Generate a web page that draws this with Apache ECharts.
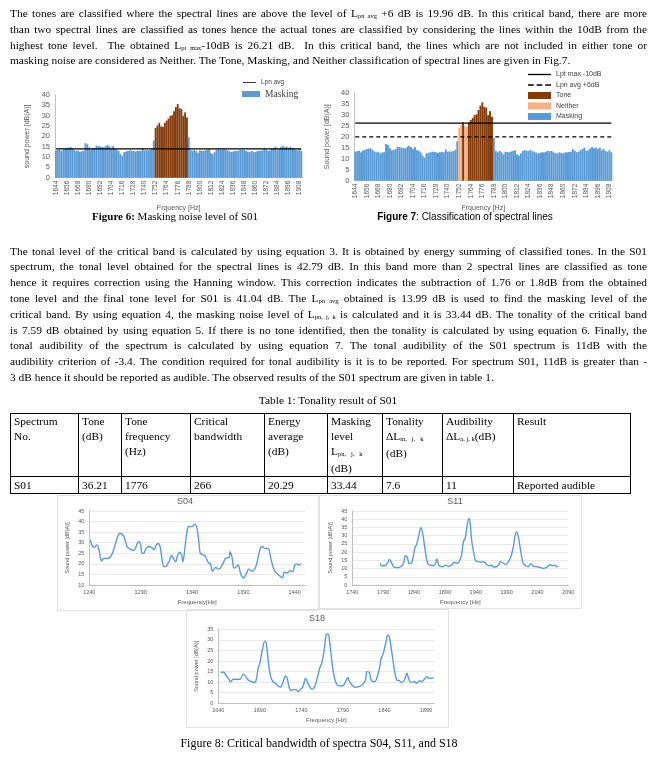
<!DOCTYPE html>
<html><head><meta charset="utf-8">
<script src="https://cdn.jsdelivr.net/npm/echarts@6/dist/echarts.min.js"></script>
<style>
html,body{margin:0;padding:0;background:#fff;}
#page{position:relative;width:657px;height:759px;overflow:hidden;}
#chart{position:absolute;left:0;top:0;width:657px;height:759px;}
.ln{position:absolute;left:10px;width:637px;height:16px;line-height:16px;font-family:"Liberation Serif","Times New Roman",serif;font-size:11.4px;color:#000;text-align:justify;text-align-last:justify;white-space:normal;}
.ln.last{text-align-last:left;}
.sb{font-size:6.5px;vertical-align:-1px;}
.cap{position:absolute;font-family:"Liberation Serif","Times New Roman",serif;color:#000;white-space:nowrap;transform:translateX(-50%);}
table{position:absolute;left:10px;top:413px;border-collapse:collapse;table-layout:fixed;font-family:"Liberation Serif","Times New Roman",serif;font-size:11.4px;color:#000;}
td{border:1px solid #000;padding:0 3px;vertical-align:top;line-height:15px;overflow:hidden;white-space:nowrap;}
</style></head>
<body><div id="page"><div id="chart"></div></div>
<script>
// ---------- data ----------
const barFreqs = [1644,1646,1648,1650,1652,1654,1656,1658,1660,1662,1664,1666,1668,1670,1672,1674,1676,1678,1680,1682,1684,1686,1688,1690,1692,1694,1696,1698,1700,1702,1704,1706,1708,1710,1712,1714,1716,1718,1720,1722,1724,1726,1728,1730,1732,1734,1736,1738,1740,1742,1744,1746,1748,1750,1752,1754,1756,1758,1760,1762,1764,1766,1768,1770,1772,1774,1776,1778,1780,1782,1784,1786,1788,1790,1792,1794,1796,1798,1800,1802,1804,1806,1808,1810,1812,1814,1816,1818,1820,1822,1824,1826,1828,1830,1832,1834,1836,1838,1840,1842,1844,1846,1848,1850,1852,1854,1856,1858,1860,1862,1864,1866,1868,1870,1872,1874,1876,1878,1880,1882,1884,1886,1888,1890,1892,1894,1896,1898,1900,1902,1904,1906,1908,1910];
const barPower = [13.2,13.4,13.6,12.9,13.7,14.0,14.4,14.6,14.7,14.0,13.3,12.9,13.2,12.4,12.8,13.0,16.7,16.2,14.7,13.8,14.1,14.4,15.5,15.3,15.0,14.8,14.7,15.3,15.9,15.3,14.4,15.3,13.9,13.6,12.9,11.4,10.5,12.4,12.7,12.9,13.2,13.1,12.9,12.7,12.9,13.0,12.9,14.2,13.2,13.3,13.2,13.5,14.0,18.0,24.1,25.3,26.5,24.8,24.5,26.5,27.6,28.6,29.8,30.2,32.1,34.1,35.6,33.6,33.2,29.8,31.6,29.1,19.5,13.5,12.9,13.5,12.9,12.0,13.2,13.0,12.9,13.3,13.5,13.9,12.0,11.4,12.4,13.5,13.9,13.6,13.5,13.9,13.4,13.2,12.8,12.4,12.7,12.9,12.9,13.2,13.5,13.4,13.5,12.9,12.6,12.4,12.9,12.6,12.4,12.8,12.9,13.1,13.2,14.4,13.5,13.0,13.2,13.9,14.4,15.0,13.5,13.9,14.7,15.3,14.7,15.0,14.4,15.0,13.9,14.4,13.5,13.2,13.9,12.9];
const fig6ToneFreqs = [1752,1754,1756,1758,1760,1762,1764,1766,1768,1770,1772,1774,1776,1778,1780,1782,1784,1786];
const fig7ToneFreqs = [1756,1762,1764,1766,1768,1770,1772,1774,1776,1778,1780,1782,1784,1786];
const fig7NeitherFreqs = [1752,1754,1758,1760];
const LPN_AVG = 13.99;
const LPN_AVG_PLUS6 = 19.96;
const LPT_MAX_MINUS10 = 26.21;

const s04Freq = [1241,1243,1245,1247,1249,1251,1252,1254,1258,1261,1264,1267,1270,1273,1275,1277,1280,1283,1285,1288,1290,1291,1293,1295,1298,1301,1303,1305,1307,1309,1311,1313,1315,1318,1320,1322,1324,1326,1328,1330,1331,1333,1335,1337,1339,1341,1343,1345,1347,1348,1350,1353,1356,1358,1360,1363,1366,1370,1373,1376,1377,1379,1381,1383,1385,1387,1390,1393,1395,1398,1401,1403,1406,1408,1411,1414,1417,1420,1423,1426,1428,1430,1433,1436,1438,1440,1442,1444,1446];
const s04Power = [31.5,28.5,27.8,29,27.5,22.5,21.3,22.5,22.5,23.5,27,32,34.5,33.5,31,28,27,26.3,27.5,30.6,29,25.5,25,27,28.2,27.5,26.8,28.7,29.6,28,21.5,18.7,19,21.5,24,22.5,21,24,25.5,24,21,27,35,37.8,37.5,38,38.8,36.5,29,25,24.5,23.5,20.5,20,16.5,18.3,17.5,20,22.8,23,25.8,23,18,18.5,19.5,16,13.3,15.5,17.5,16.5,17.5,20,26.5,28.2,27.3,27.2,22,17,15.3,14,13.5,16,15.8,16.8,16.2,19.3,20,19.3,20.3];
const s11Freq = [1785,1788,1793,1797,1800,1804,1807,1812,1817,1820,1823,1826,1829,1832,1835,1838,1842,1844,1848,1851,1854,1858,1862,1866,1870,1874,1877,1880,1883,1887,1891,1896,1901,1905,1909,1913,1917,1920,1923,1925,1929,1931,1933,1936,1940,1944,1948,1952,1955,1959,1962,1966,1969,1973,1977,1980,1985,1989,1993,1997,2001,2004,2006,2009,2013,2017,2021,2025,2029,2033,2039,2044,2050,2054,2058,2060,2064,2068,2071,2074];
const s11Power = [13.2,11.7,11.7,13.2,15.6,13.2,11.1,10.5,10.9,11.5,13.2,17.8,16.8,13.2,13,16.2,23.3,24.3,30.4,34.8,31.4,21.3,13.2,12.1,11.7,12.5,15.8,12.1,11.3,11.1,12.1,11.3,12.1,13.8,13.2,14.2,18.2,26.3,28.4,33.4,40.4,37.5,28.4,21.3,14.6,14.2,13.8,14.2,13.6,12.1,11.7,12.1,10.9,11.1,12.1,14.2,13.2,12.5,14.2,17.2,23.3,30.4,32.2,29.4,20.3,13.2,11.7,11.1,13,11.5,11.1,10.7,10.1,10.5,11.7,12.5,11.7,12.1,11.1,11.7];
const s18Freq = [1643,1646,1649,1652,1655,1658,1662,1666,1670,1673,1676,1680,1684,1686,1688,1690,1693,1696,1698,1700,1703,1706,1709,1712,1715,1718,1721,1723,1725,1728,1731,1734,1736,1739,1742,1745,1747,1750,1753,1756,1759,1762,1765,1768,1770,1772,1774,1777,1780,1783,1787,1791,1794,1796,1798,1801,1805,1809,1813,1817,1819,1822,1824,1828,1830,1834,1836,1838,1842,1844,1846,1849,1852,1855,1858,1861,1864,1867,1869,1872,1876,1879,1882,1885,1888,1891,1894,1899];
const s18Power = [14.5,14.8,13.4,11.8,10.2,11.4,11.4,11.4,13.7,12.6,11,10.2,9.9,11.8,16.5,18.9,25.2,29.4,27.6,20.5,12.6,10.2,9.5,8.2,7.6,10.2,12.9,11.8,7.9,6,6.6,6.3,5.5,6.6,7.9,11.8,10.2,7.9,6.6,7.9,11.8,16.5,19.7,26.8,32.6,32.8,29.2,18.9,11.8,8.7,8.2,8.7,11,12.1,10.2,8.7,7.6,7.9,8.7,10.7,15,14.5,11,10.2,11,16.5,21.3,22.9,29.2,32.3,31.2,23.7,15.8,11,10.7,9.8,11,14.2,11.8,9.8,10.2,9.5,10.7,10.2,11.4,12.6,11.8,12.1];

const tableHeader = ['Spectrum<br>No.','Tone<br>(dB)','Tone<br>frequency<br>(Hz)','Critical<br>bandwidth','Energy<br>average<br>(dB)','Masking<br>level<br>L<span class="sb">pn,&nbsp;&nbsp; j,&nbsp;&nbsp; k</span><br>(dB)','Tonality<br>&Delta;L<span class="sb">tn,&nbsp;&nbsp; j,&nbsp;&nbsp; k</span><br>(dB)','Audibility<br>&Delta;L<span class="sb">a, j, k</span>(dB)','Result'];
const tableRow = ['S01','36.21','1776','266','20.29','33.44','7.6','11','Reported audible'];
const colWidths = [68,43,69,74,63,55,60,71,117];

// ---------- text ----------
const para1 = [
 'The tones are classified where the spectral lines are above the level of L<span class="sb">pn avg</span> +6 dB is 19.96 dB. In this critical band, there are more',
 'than two spectral lines are classified as tones hence the actual tones are classified by considering the lines within the 10dB from the',
 'highest tone level.&nbsp; The obtained L<span class="sb">pt max</span>-10dB is 26.21 dB.&nbsp; In this critical band, the lines which are not included in either tone or',
 'masking noise are considered as Neither. The Tone, Masking, and Neither classification of spectral lines are given in Fig.7.'
];
const para2 = [
 'The tonal level of the critical band is calculated by using equation 3. It is obtained by energy summing of classified tones. In the S01',
 'spectrum, the tonal level obtained for the spectral lines is 42.79 dB. In this band more than 2 spectral lines are classified as tone',
 'hence it requires correction using the Hanning window. This correction indicates the subtraction of 1.76 or 1.8dB from the obtained',
 'tone level and the final tone level for S01 is 41.04 dB. The L<span class="sb">pn avg</span> obtained is 13.99 dB is used to find the masking level of the',
 'critical band. By using equation 4, the masking noise level of L<span class="sb">pn, j, k</span> is calculated and it is 33.44 dB. The tonality of the critical band',
 'is 7.59 dB obtained by using equation 5. If there is no tone identified, then the tonality is calculated by using equation 6. Finally, the',
 'tonal audibility of the spectrum is calculated by using equation 7. The tonal audibility of the S01 spectrum is 11dB with the',
 'audibility criterion of -3.4. The condition required for tonal audibility is it is to be reported. For spectrum S01, 11dB is greater than -',
 '3 dB hence it should be reported as audible. The observed results of the S01 spectrum are given in table 1.'
];
const page = document.getElementById('page');
function addLines(lines, startY, step){
  lines.forEach((t,i)=>{
    const d=document.createElement('div');
    d.className='ln'+(i===lines.length-1?' last':'');
    d.style.top=(startY+i*step-8)+'px';
    d.innerHTML=t; page.appendChild(d);
  });
}
addLines(para1, 13, 15.8);
addLines(para2, 250.5, 15.8);
function addCap(html, cx, cy, size){
  const d=document.createElement('div'); d.className='cap';
  d.style.left=cx+'px'; d.style.top=(cy-size*0.6)+'px'; d.style.fontSize=size+'px';
  d.innerHTML=html; page.appendChild(d);
}
addCap('<b>Figure 6:</b> Masking noise level of S01', 175, 217, 11);
addCap('<b style="font-family:\'Liberation Sans\',sans-serif">Figure 7</b><span style="font-family:\'Liberation Sans\',sans-serif">: Classification of spectral lines</span>', 465, 217, 10);
addCap('Table 1: Tonality result of S01', 328, 401, 11.4);
addCap('Figure 8: Critical bandwidth of spectra S04, S11, and S18', 319, 743, 12);
// table
const tb=document.createElement('table');
const cg=document.createElement('colgroup');
colWidths.forEach(w=>{const c=document.createElement('col');c.style.width=w+'px';cg.appendChild(c);});
tb.appendChild(cg);
const tr1=document.createElement('tr'); tr1.style.height='60px';
tableHeader.forEach(h=>{const td=document.createElement('td');td.innerHTML=h;tr1.appendChild(td);});
const tr2=document.createElement('tr'); tr2.style.height='17px';
tableRow.forEach(h=>{const td=document.createElement('td');td.innerHTML=h;td.style.lineHeight='16px';tr2.appendChild(td);});
tb.appendChild(tr1); tb.appendChild(tr2);
tb.style.width=colWidths.reduce((a,b)=>a+b,0)+'px';
page.appendChild(tb);

// ---------- chart ----------
const BLUE='#5B9BD5', BROWN='#843C0C', PEACH='#F4B183';
const AX='#595959', AXL='#bfbfbf', GRID='#e3e3e3';
const SANS='"Liberation Sans", Arial, sans-serif';
const pick = set => barPower.map((v,i)=> set.includes(barFreqs[i]) ? v : '-');
const notIn = set => barPower.map((v,i)=> set.includes(barFreqs[i]) ? '-' : v);
const fig7Class = fig7ToneFreqs.concat(fig7NeitherFreqs);
const zip = (a,b)=>a.map((x,i)=>[x,b[i]]);
const plain = v => String(v);
const SOLID_ICON = 'path://M0,0H24V1.4H0Z';
const DASH_ICON = 'path://M0,0H6V1.4H0Z M9,0H15V1.4H9Z M18,0H24V1.4H18Z';

function catAxis(g, gap){
  return {type:'category', gridIndex:g, data:barFreqs, boundaryGap:true,
    axisLine:{lineStyle:{color:AXL}}, axisTick:{show:false},
    axisLabel:{interval:5, rotate:90, fontSize:6.5, color:AX, margin:3, fontFamily:SANS},
    name:'Frquency [Hz]', nameLocation:'middle', nameGap:gap, nameTextStyle:{fontSize:7, color:AX, fontFamily:SANS}};
}
function barY(g, name){
  return {type:'value', gridIndex:g, min:0, max:40, interval:5,
    axisLine:{show:true, lineStyle:{color:AXL}}, axisTick:{show:false}, splitLine:{show:false},
    axisLabel:{fontSize:7.5, color:AX, margin:5, fontFamily:SANS, formatter:plain},
    name:name, nameLocation:'middle', nameGap:24, nameRotate:90, nameTextStyle:{fontSize:7, color:AX, fontFamily:SANS}};
}
function valX(g, min, max, name, showMax){
  return {type:'value', gridIndex:g, min:min, max:max, interval:50,
    axisLine:{show:true, lineStyle:{color:AXL}}, axisTick:{show:false}, splitLine:{show:false},
    axisLabel:{fontSize:5.5, color:AX, margin:4, showMaxLabel:showMax, fontFamily:SANS, formatter:plain},
    name:name, nameLocation:'middle', nameGap:14, nameTextStyle:{fontSize:6, color:AX, fontFamily:SANS}};
}
function valY(g, min, max){
  return {type:'value', gridIndex:g, min:min, max:max, interval:5,
    axisLine:{show:true, lineStyle:{color:AXL}}, axisTick:{show:false},
    splitLine:{show:true, lineStyle:{color:GRID, width:0.8}},
    axisLabel:{fontSize:5.5, color:AX, margin:5, fontFamily:SANS, formatter:plain},
    name:'Sound power [dB(A)]', nameLocation:'middle', nameGap:19, nameRotate:90, nameTextStyle:{fontSize:5.5, color:AX, fontFamily:SANS}};
}
const barBase = {type:'bar', barCategoryGap:'0%', barGap:'-100%', animation:false};
const lineBase = {type:'line', symbol:'none', animation:false};

const option = {
  animation:false,
  grid:[
    {left:55, top:95, width:247.3, height:82.7},
    {left:354.3, top:92.7, width:258, height:88},
    {left:89.3, top:511, width:215.7, height:74},
    {left:352.3, top:511, width:216, height:74},
    {left:218.3, top:629.3, width:216, height:74}
  ],
  xAxis:[ catAxis(0,27), catAxis(1,24),
    valX(2,1240,1450,'Frequency[Hz]',false), valX(3,1740,2090,'Frequency [Hz]',true), valX(4,1640,1900,'Frequency [Hz]',false)],
  yAxis:[ barY(0,'sound power [dB(A)]'), barY(1,'Sound power [dB(A)]'),
    valY(2,10,45), valY(3,0,45), valY(4,0,35)],
  legend:[
    {data:[{name:'Lpn avg', icon:SOLID_ICON}], left:243, top:79, itemWidth:13, itemHeight:6, padding:0,
      textStyle:{fontSize:6.5, color:'#404040', fontFamily:SANS}},
    {data:['Masking'], left:242, top:89, itemWidth:18, itemHeight:6, padding:0, icon:'rect',
      textStyle:{fontSize:9.5, color:'#404040', fontFamily:'"Liberation Serif", serif'}},
    {data:[{name:'Lpt max -10dB', icon:SOLID_ICON},{name:'Lpn avg +6dB', icon:DASH_ICON},{name:'Tone', icon:'rect'},{name:'Neither', icon:'rect'},{name:'Masking', icon:'rect'}],
      orient:'vertical', left:528, top:71,
      itemWidth:23, itemHeight:7, itemGap:3.5, padding:0, textStyle:{fontSize:7, color:'#404040', fontFamily:SANS}}
  ],
  graphic:[
    {type:'rect', shape:{x:57.5,y:495.5,width:261,height:115}, style:{fill:'none', stroke:'#e2e2e2', lineWidth:1}, silent:true},
    {type:'rect', shape:{x:319.5,y:495.5,width:262,height:113}, style:{fill:'none', stroke:'#e2e2e2', lineWidth:1}, silent:true},
    {type:'rect', shape:{x:186.5,y:609.5,width:262,height:118}, style:{fill:'none', stroke:'#e2e2e2', lineWidth:1}, silent:true},
    {type:'text', x:185, y:502, style:{text:'S04', textAlign:'center', textVerticalAlign:'middle', fill:AX, font:'9px "Liberation Sans", sans-serif'}},
    {type:'text', x:455, y:502, style:{text:'S11', textAlign:'center', textVerticalAlign:'middle', fill:AX, font:'9px "Liberation Sans", sans-serif'}},
    {type:'text', x:317, y:618.5, style:{text:'S18', textAlign:'center', textVerticalAlign:'middle', fill:AX, font:'9px "Liberation Sans", sans-serif'}}
  ],
  series:[
    Object.assign({}, barBase, {name:'Masking', xAxisIndex:0, yAxisIndex:0, data:notIn(fig6ToneFreqs), itemStyle:{color:BLUE}}),
    Object.assign({}, barBase, {name:'Tone', xAxisIndex:0, yAxisIndex:0, data:pick(fig6ToneFreqs), itemStyle:{color:BROWN}}),
    Object.assign({}, lineBase, {name:'Lpn avg', xAxisIndex:0, yAxisIndex:0, data:barFreqs.map(()=>LPN_AVG), lineStyle:{color:'#000', width:1.3}, itemStyle:{color:'#000'}, z:5}),
    Object.assign({}, barBase, {name:'Masking', xAxisIndex:1, yAxisIndex:1, data:notIn(fig7Class), itemStyle:{color:BLUE}}),
    Object.assign({}, barBase, {name:'Neither', xAxisIndex:1, yAxisIndex:1, data:pick(fig7NeitherFreqs), itemStyle:{color:PEACH}}),
    Object.assign({}, barBase, {name:'Tone', xAxisIndex:1, yAxisIndex:1, data:pick(fig7ToneFreqs), itemStyle:{color:BROWN}}),
    Object.assign({}, lineBase, {name:'Lpt max -10dB', xAxisIndex:1, yAxisIndex:1, data:barFreqs.map(()=>LPT_MAX_MINUS10), lineStyle:{color:'#000', width:1.2}, itemStyle:{color:'#000'}, z:5}),
    Object.assign({}, lineBase, {name:'Lpn avg +6dB', xAxisIndex:1, yAxisIndex:1, data:barFreqs.map(()=>LPN_AVG_PLUS6), lineStyle:{color:'#000', width:1.2, type:[4,3]}, itemStyle:{color:'#000'}, z:5}),
    Object.assign({}, lineBase, {name:'S04', xAxisIndex:2, yAxisIndex:2, data:zip(s04Freq,s04Power), smooth:0.4, lineStyle:{color:BLUE, width:1.4}}),
    Object.assign({}, lineBase, {name:'S11', xAxisIndex:3, yAxisIndex:3, data:zip(s11Freq,s11Power), smooth:0.4, lineStyle:{color:BLUE, width:1.4}}),
    Object.assign({}, lineBase, {name:'S18', xAxisIndex:4, yAxisIndex:4, data:zip(s18Freq,s18Power), smooth:0.4, lineStyle:{color:BLUE, width:1.4}})
  ]
};
const chart = echarts.init(document.getElementById('chart'), null, {renderer:'canvas'});
chart.setOption(option);
</script>
</body></html>
